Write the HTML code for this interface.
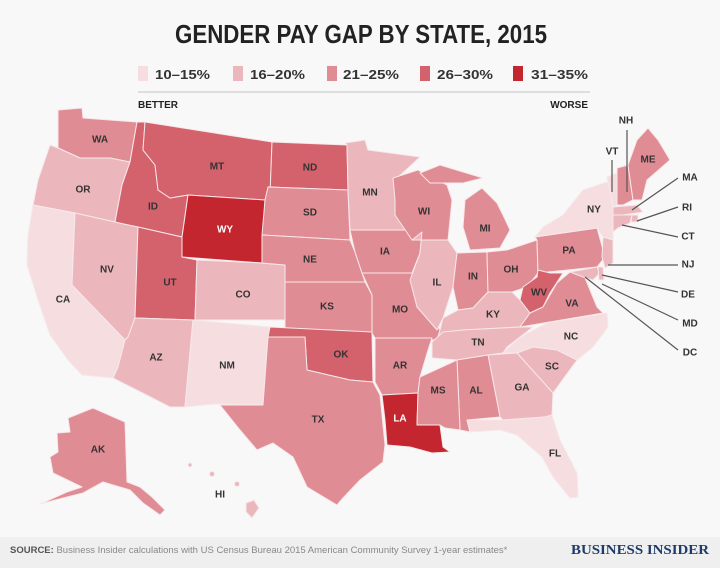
<!DOCTYPE html>
<html><head><meta charset="utf-8"><style>
html,body{margin:0;padding:0;background:#f8f8f8;}
svg{display:block;font-family:"Liberation Sans",sans-serif;}
.s{stroke:#f7e8ea;stroke-width:1;stroke-linejoin:round}
.c1{fill:#f5dde0}.c2{fill:#ebb7bc}.c3{fill:#e08c94}.c4{fill:#d4626c}.c5{fill:#c4262f}
.l{font-size:10px;font-weight:bold;fill:#333;text-anchor:middle;dominant-baseline:central}
.w{fill:#fff}
.ld{stroke:#555;stroke-width:1.2;fill:none}
</style></head><body>
<svg width="720" height="568" viewBox="0 0 720 568">
<rect width="720" height="568" fill="#f8f8f8"/>
<text x="361" y="43" font-size="26" font-weight="bold" fill="#222" text-anchor="middle" textLength="372" lengthAdjust="spacingAndGlyphs">GENDER PAY GAP BY STATE, 2015</text>
<g font-size="13" font-weight="bold" fill="#333">
<rect x="138" y="66" width="10" height="15" class="c1"/><text x="155" y="79" textLength="55" lengthAdjust="spacingAndGlyphs">10–15%</text>
<rect x="233" y="66" width="10" height="15" class="c2"/><text x="250" y="79" textLength="55" lengthAdjust="spacingAndGlyphs">16–20%</text>
<rect x="327" y="66" width="10" height="15" class="c3"/><text x="343" y="79" textLength="56" lengthAdjust="spacingAndGlyphs">21–25%</text>
<rect x="420" y="66" width="10" height="15" class="c4"/><text x="437" y="79" textLength="56" lengthAdjust="spacingAndGlyphs">26–30%</text>
<rect x="513" y="66" width="10" height="15" class="c5"/><text x="531" y="79" textLength="57" lengthAdjust="spacingAndGlyphs">31–35%</text>
</g>
<line x1="138" y1="92" x2="590" y2="92" stroke="#cfcfcf" stroke-width="1.2"/>
<text x="138" y="108" font-size="10" font-weight="bold" fill="#222">BETTER</text>
<text x="588" y="108" font-size="10" font-weight="bold" fill="#222" text-anchor="end">WORSE</text>

<g class="s">
<polygon class="c3" points="58,110 82,108 83,118 137,122 130,162 110,158 80,158 58,148 58,130"/>
<polygon class="c2" points="50,145 58,148 80,158 110,158 130,162 122,185 115,222 75,213 33,205 38,180"/>
<polygon class="c1" points="33,205 75,213 72,285 125,340 118,367 113,378 82,375 68,360 50,335 38,300 27,265 28,235"/>
<polygon class="c2" points="75,213 115,222 138,227 135,318 128,337 125,340 72,285"/>
<polygon class="c4" points="137,122 145,122 143,150 155,165 158,190 170,198 188,195 182,237 138,227 115,222 122,185 130,162"/>
<polygon class="c4" points="145,122 272,142 270,195 265,200 188,195 170,198 158,190 155,165 143,150"/>
<polygon class="c5" points="188,195 265,200 262,263 182,257 182,237"/>
<polygon class="c4" points="138,227 182,237 182,257 197,260 195,320 135,318"/>
<polygon class="c2" points="197,260 262,263 285,265 285,320 195,320"/>
<polygon class="c2" points="135,318 193,320 185,407 170,407 113,378 118,367 125,340 128,337"/>
<polygon class="c1" points="193,320 270,327 268,337 263,405 213,404 185,407"/>
<polygon class="c4" points="272,142 347,145 348,190 268,187 270,195"/>
<polygon class="c3" points="268,187 348,190 350,240 262,235 265,200"/>
<polygon class="c3" points="262,235 350,240 355,252 365,282 285,282 285,265 262,263"/>
<polygon class="c3" points="285,282 365,282 372,295 372,333 285,333"/>
<polygon class="c4" points="270,327 372,332 373,382 350,380 307,370 305,337 268,337"/>
<polygon class="c3" points="268,337 305,337 307,370 350,380 373,382 380,395 385,445 383,462 360,480 343,498 337,505 307,487 293,457 273,443 257,450 240,430 220,405 263,405"/>
<polygon class="c2" points="345,143 365,140 368,150 420,157 395,180 395,215 410,230 350,230 348,190 347,145"/>
<polygon class="c3" points="350,230 410,230 422,232 420,253 412,273 362,273 355,252"/>
<polygon class="c3" points="362,273 412,273 420,293 430,313 440,330 437,340 375,338 372,333 372,295"/>
<polygon class="c3" points="375,338 432,338 428,350 420,377 418,393 382,395 375,382"/>
<polygon class="c5" points="382,395 418,393 417,425 440,425 443,447 450,452 432,453 410,447 387,445 385,420"/>
<polygon class="c3" points="393,178 418,170 447,185 452,200 448,240 412,240 395,215 395,200"/>
<polygon class="c3" points="420,173 440,165 483,178 463,183 430,183"/>
<polygon class="c3" points="465,200 482,188 497,203 503,215 510,230 500,248 470,250 463,227"/>
<polygon class="c2" points="412,240 448,240 457,253 453,287 443,318 437,330 417,307 410,280 420,253 422,232"/>
<polygon class="c3" points="457,253 487,252 488,292 473,308 458,310 453,287"/>
<polygon class="c3" points="487,252 507,250 537,240 538,273 527,287 512,292 488,292"/>
<polygon class="c3" points="535,237 597,228 605,257 597,267 538,273 537,240"/>
<polygon class="c1" points="543,227 563,215 583,190 607,182 613,185 613,240 603,237 597,228 535,237"/>
<polygon class="c2" points="443,318 458,310 473,308 488,292 512,292 520,300 530,313 520,327 463,330 437,340 440,330"/>
<polygon class="c4" points="523,287 537,277 538,270 550,273 563,273 550,293 543,307 530,313 520,300"/>
<polygon class="c3" points="543,307 557,283 570,272 583,273 597,307 603,313 520,327 530,313"/>
<polygon class="c2" points="570,272 597,267 600,273 593,280 583,277"/>
<polygon class="c2" points="598,267 603,267 604,280 599,280"/>
<polygon class="c2" points="603,237 613,240 613,263 605,268 602,257"/>
<polygon class="c1" points="607,177 617,173 617,205 613,207"/>
<polygon class="c3" points="617,168 628,165 633,200 623,205 617,205"/>
<polygon class="c3" points="628,165 637,140 648,128 658,140 670,160 647,180 642,200 633,200"/>
<polygon class="c2" points="613,207 637,205 643,212 623,215 613,215"/>
<polygon class="c2" points="613,215 632,215 630,223 618,228 613,232"/>
<polygon class="c2" points="632,215 638,215 638,222 631,222"/>
<polygon class="c2" points="432,342 443,332 463,330 520,327 533,327 507,347 503,353 488,355 457,360 432,358"/>
<polygon class="c1" points="503,353 520,337 547,323 607,313 608,327 593,347 577,360 557,350 533,347 517,353"/>
<polygon class="c2" points="517,353 533,347 557,350 577,360 553,393"/>
<polygon class="c2" points="488,355 517,353 553,393 552,415 545,417 503,420 500,417"/>
<polygon class="c3" points="457,360 488,355 500,417 467,420 470,432 460,430"/>
<polygon class="c3" points="420,377 457,360 460,430 445,428 440,425 417,425 418,393"/>
<polygon class="c1" points="467,420 503,420 545,417 552,415 560,440 577,473 578,497 570,498 553,477 542,457 517,435 500,430 470,432"/>
<polygon class="c3" points="68,418 93,408 125,422 127,482 140,487 152,497 165,510 160,515 143,503 130,490 103,482 83,493 67,497 40,504 67,492 82,487 53,473 50,457 58,452 57,433 70,432"/>
<circle class="c2" cx="190" cy="465" r="2"/><circle class="c2" cx="212" cy="474" r="2.5"/><circle class="c2" cx="237" cy="484" r="2.5"/>
<polygon class="c2" points="246,503 254,500 259,508 252,518 246,512"/>
</g>

<g class="ld">
<line x1="612" y1="160" x2="612" y2="192"/><line x1="627" y1="130" x2="627" y2="192"/>
<line x1="678" y1="178" x2="632" y2="210"/><line x1="678" y1="207" x2="637" y2="221"/>
<line x1="678" y1="237" x2="622" y2="225"/><line x1="678" y1="265" x2="608" y2="265"/>
<line x1="678" y1="292" x2="602" y2="275"/><line x1="678" y1="320" x2="602" y2="284"/>
<line x1="678" y1="350" x2="585" y2="277"/>
</g>

<g class="l">
<text x="100" y="140">WA</text><text x="83" y="190">OR</text><text x="153" y="207">ID</text>
<text x="217" y="167">MT</text><text x="310" y="168">ND</text><text x="310" y="213">SD</text>
<text x="225" y="230" class="l w">WY</text><text x="310" y="260">NE</text><text x="107" y="270">NV</text>
<text x="170" y="283">UT</text><text x="243" y="295">CO</text><text x="63" y="300">CA</text>
<text x="327" y="307">KS</text><text x="370" y="193">MN</text><text x="424" y="212">WI</text>
<text x="485" y="229">MI</text><text x="385" y="252">IA</text><text x="437" y="283">IL</text>
<text x="473" y="277">IN</text><text x="511" y="270">OH</text><text x="569" y="251">PA</text>
<text x="594" y="210">NY</text><text x="612" y="152">VT</text><text x="626" y="121">NH</text>
<text x="648" y="160">ME</text><text x="539" y="293">WV</text><text x="572" y="304">VA</text>
<text x="493" y="315">KY</text><text x="400" y="310">MO</text><text x="156" y="358">AZ</text>
<text x="227" y="366">NM</text><text x="341" y="355">OK</text><text x="318" y="420">TX</text>
<text x="98" y="450">AK</text><text x="220" y="495">HI</text><text x="400" y="366">AR</text>
<text x="400" y="419" class="l w">LA</text><text x="438" y="391">MS</text><text x="476" y="391">AL</text>
<text x="522" y="388">GA</text><text x="552" y="367">SC</text><text x="571" y="337">NC</text>
<text x="478" y="343">TN</text><text x="555" y="454">FL</text>
<text x="690" y="178">MA</text><text x="687" y="208">RI</text><text x="688" y="237">CT</text>
<text x="688" y="265">NJ</text><text x="688" y="295">DE</text><text x="690" y="324">MD</text>
<text x="690" y="353">DC</text>
</g>

<rect x="0" y="537" width="720" height="31" fill="#efefef"/>
<text x="10" y="553" font-size="9.5" fill="#888"><tspan font-weight="bold" fill="#555">SOURCE:</tspan> Business Insider calculations with US Census Bureau 2015 American Community Survey 1-year estimates*</text>
<text x="709" y="554" font-family="'Liberation Serif',serif" font-size="14" font-weight="bold" fill="#1f3a6a" text-anchor="end" textLength="138" lengthAdjust="spacingAndGlyphs">BUSINESS INSIDER</text>
</svg>
</body></html>
